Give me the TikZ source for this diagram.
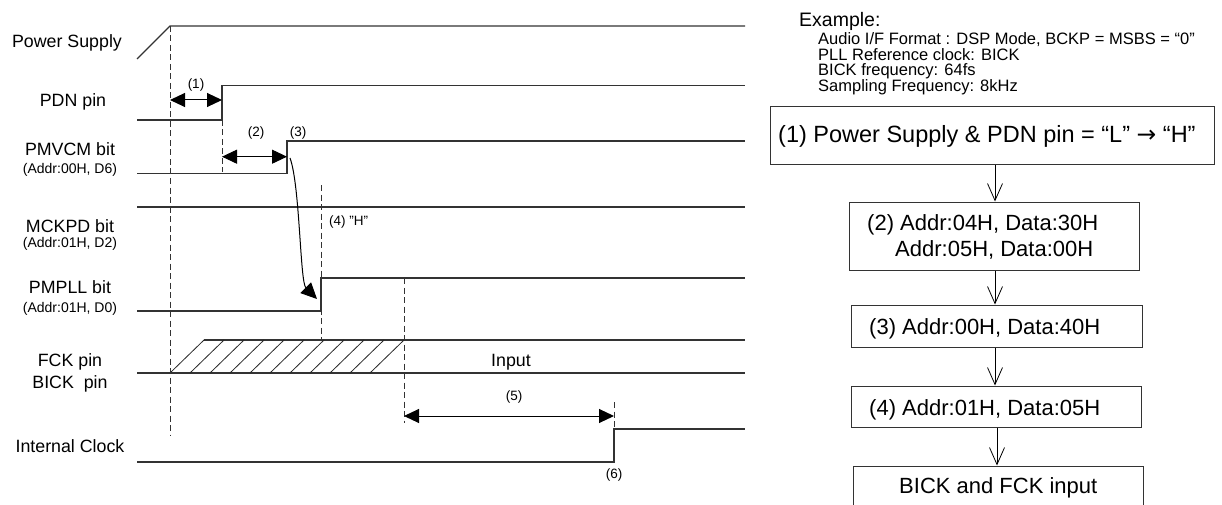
\documentclass[tikz,border=0pt]{standalone}
\usepackage{fontspec}
\setmainfont{Liberation Sans}
\newfontfamily\arrowfont{DejaVu Sans}
\usetikzlibrary{arrows.meta}
\begin{document}
\begin{tikzpicture}[x=1pt,y=-1pt,
  sig/.style={line width=1.1pt, draw=black!80},
  hatch/.style={line width=0.8pt, draw=black!85},
  dsh/.style={line width=0.9pt, draw=black!80, dash pattern=on 6pt off 3.5pt},
  dim/.style={line width=1pt, draw=black, {Triangle[length=15pt,width=14pt]}-{Triangle[length=15pt,width=14pt]}},
  curv/.style={line width=1pt, draw=black, -{Triangle[length=16pt,width=15pt]}},
  lab/.style={font=\fontsize{17.8}{20}\selectfont, anchor=base, inner sep=0pt},
  sublab/.style={font=\fontsize{14}{16}\selectfont, anchor=base, inner sep=0pt},
  small/.style={font=\fontsize{13.5}{15}\selectfont, anchor=base, inner sep=0pt},
  extxt/.style={font=\fontsize{16.5}{18}\selectfont, anchor=base west, inner sep=0pt},
  boxtxt/.style={font=\fontsize{22}{26}\selectfont, anchor=base west, inner sep=0pt},
  box/.style={draw=black!80, line width=1pt, inner sep=0pt},
  flow/.style={line width=0.8pt, draw=black, -{Straight Barb[length=17pt,width=15pt]}}
]
\useasboundingbox (0,0) rectangle (1222,505);
\clip (0,0) rectangle (1222,505);

% ---------- left labels ----------
\node[lab] (lps) at (67,48) {Power Supply};
\node[lab] (lpdn) at (73,107) {PDN pin};
\node[lab] (lpmvcm) at (70,156) {PMVCM bit};
\node[sublab] (lpmvcma) at (70,174) {(Addr:00H, D6)};
\node[lab] (lmckpd) at (70,232) {MCKPD bit};
\node[sublab] (lmckpda) at (70,247) {(Addr:01H, D2)};
\node[lab] (lpmpll) at (70,293) {PMPLL bit};
\node[sublab] (lpmplla) at (70,312) {(Addr:01H, D0)};
\node[lab] (lfck) at (70,366) {FCK pin};
\node[lab] (lbick) at (70,388) {BICK\ \ pin};
\node[lab] (lint) at (70,452) {Internal Clock};

% ---------- waveforms ----------
\draw[sig] (137,59) -- (170,26) -- (745,26);
\draw[sig] (137,120) -- (222,120) -- (222,85.7) -- (745,85.7);
\draw[sig] (137,173.3) -- (287,173.3) -- (287,141) -- (745,141);
\draw[sig] (137,207) -- (745,207);
\draw[sig] (137,311) -- (321,311) -- (321,278) -- (745,278);
\draw[sig] (137,373) -- (745,373);
\draw[sig] (204,340) -- (745,340);
\foreach \k in {0,...,10} \draw[hatch] ({170+20*\k},373) -- ({204+20*\k},340);
\draw[sig] (137,462) -- (614,462) -- (614,429) -- (745,429);

% ---------- dashed markers ----------
\draw[dsh] (170,26) -- (170,435);
\draw[dsh] (222,120) -- (222,172);
\draw[dsh] (321,185) -- (321,340);
\draw[dsh] (404,278) -- (404,423);
\draw[dsh] (614,402) -- (614,462);

% ---------- interval arrows ----------
\coordinate (a1s) at (170,100);   \coordinate (a1e) at (222,100);
\coordinate (a2s) at (222,156.7); \coordinate (a2e) at (287,156.7);
\coordinate (a5s) at (404,416);   \coordinate (a5e) at (614,416);
\draw[dim] (a1s) -- (a1e);
\draw[dim] (a2s) -- (a2e);
\draw[dim] (a5s) -- (a5e);
\coordinate (cvs) at (290,158);
\coordinate (cve) at (317,299);
\draw[curv] (cvs) .. controls (300,185) and (300,282) .. (cve);

\node[small] (n1) at (196,89) {(1)};
\node[small] (n2) at (256,136.5) {(2)};
\node[small] (n3) at (298,136.5) {(3)};
\node[small, anchor=base west] (n4) at (329,225) {(4) "H"};
\node[small] (n5) at (514,400) {(5)};
\node[small] (n6) at (614,478) {(6)};
\node[lab] (ninput) at (511,366) {Input};

% ---------- example text ----------
\node[font=\fontsize{19.5}{22}\selectfont, anchor=base west, inner sep=0pt] (ex) at (799,27) {Example:};
\node[extxt] (ex1) at (818,45) {Audio I/F Format : DSP Mode, BCKP = MSBS = “0”};
\node[extxt] (ex2) at (818,60.5) {PLL Reference clock: BICK};
\node[extxt] (ex3) at (818,76) {BICK frequency: 64fs};
\node[extxt] (ex4) at (818,91.5) {Sampling Frequency: 8kHz};

% ---------- flow chart ----------
\node[box, minimum width=444pt, minimum height=58pt] (b1) at (992,136) {};
\node[box, minimum width=290pt, minimum height=68pt] (b2) at (994,236) {};
\node[box, minimum width=291pt, minimum height=42pt] (b3) at (996.5,326) {};
\node[box, minimum width=290pt, minimum height=41pt] (b4) at (996,406.5) {};
\node[box, minimum width=290pt, minimum height=54pt] (b5) at (998,493) {};

\node[boxtxt, font=\fontsize{23.5}{26}\selectfont] (t1) at (778,143) {(1) Power Supply \& PDN pin = “L” {\arrowfont →} “H”};
\node[boxtxt] (t2a) at (867,230) {(2) Addr:04H, Data:30H};
\node[boxtxt] (t2b) at (895,256) {Addr:05H, Data:00H};
\node[boxtxt] (t3) at (869,334) {(3) Addr:00H, Data:40H};
\node[boxtxt] (t4) at (869,415) {(4) Addr:01H, Data:05H};
\node[boxtxt] (t5) at (899,493) {BICK and FCK input};

\coordinate (fa) at (995,0);
\coordinate (fb) at (997,0);
\draw[flow] (b1.south -| fa) -- (b2.north -| fa);
\draw[flow] (b2.south -| fa) -- (b3.north -| fa);
\draw[flow] (b3.south -| fa) -- (b4.north -| fa);
\draw[flow] (b4.south -| fb) -- (b5.north -| fb);
\end{tikzpicture}
\end{document}
